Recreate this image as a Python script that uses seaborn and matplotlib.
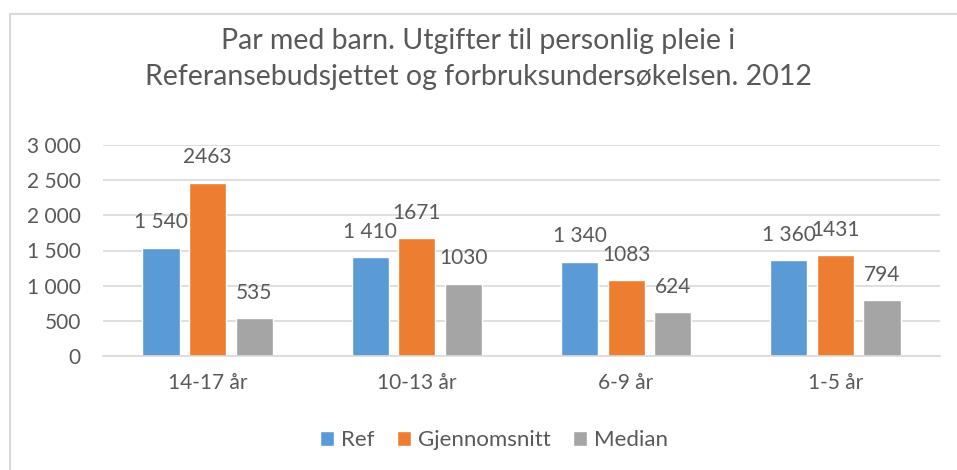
import matplotlib
matplotlib.use('Agg')
import matplotlib.pyplot as plt
import pandas as pd
import seaborn as sns
from matplotlib.lines import Line2D

categories = ['14-17 år', '10-13 år', '6-9 år', '1-5 år']
series = ['Ref', 'Gjennomsnitt', 'Median']
ref_vals = [1540, 1410, 1340, 1360]
snitt_vals = [2463, 1671, 1083, 1431]
median_vals = [535, 1030, 624, 794]
colors = ['#5B9BD5', '#ED7D31', '#A5A5A5']

title = 'Par med barn. Utgifter til personlig pleie i\nReferansebudsjettet og forbruksundersøkelsen. 2012'

def fmt(v):
    return f'{v:,.0f}'.replace(',', ' ')

#long table for seaborn
rows = []
for s, vals in zip(series, [ref_vals, snitt_vals, median_vals]):
    for c, v in zip(categories, vals):
        rows.append({'kat': c, 'serie': s, 'verdi': v})
df = pd.DataFrame(rows)

sns.set_style('white')
plt.rcParams['font.family'] = ['Lato', 'DejaVu Sans']
txt = '#595959'

fig = plt.figure(figsize=(9.57, 4.70), dpi=100)
ax = fig.add_axes([103/957, 1-356/470, (940-103)/957, (356-145)/470])

sns.barplot(data=df, x='kat', y='verdi', hue='serie', palette=colors,
            width=0.667, gap=0.2, ax=ax, legend=True, saturation=1)

#labels over bars, Ref with space separator
for cont, s in zip(ax.containers, series):
    if s == 'Ref':
        labs = [fmt(v) for v in ref_vals]
    elif s == 'Gjennomsnitt':
        labs = [str(v) for v in snitt_vals]
    else:
        labs = [str(v) for v in median_vals]
    ax.bar_label(cont, labels=labs, padding=11, fontsize=15, color=txt)

ax.set_ylim(0, 3000)
ax.set_xlim(-0.5, 3.5)
ax.set_yticks(range(0, 3001, 500))
ax.set_yticklabels([fmt(v) for v in range(0, 3001, 500)])
ax.yaxis.grid(True, color='#D9D9D9', linewidth=1.2)
ax.set_axisbelow(True)
for sp in ['top', 'right', 'left']:
    ax.spines[sp].set_visible(False)
ax.spines['bottom'].set_color('#D9D9D9')
ax.spines['bottom'].set_linewidth(1.2)
ax.tick_params(axis='both', length=0, labelsize=15, labelcolor=txt)
ax.tick_params(axis='x', pad=12)
ax.tick_params(axis='y', pad=16)
ax.set_xlabel('')
ax.set_ylabel('')

handles, labels = ax.get_legend_handles_labels()
ax.get_legend().remove()
fig.legend(handles, labels, loc='center', bbox_to_anchor=(494/957, 1-440/470), ncol=3,
           frameon=False, fontsize=16, labelcolor=txt, handlelength=0.65,
           handleheight=0.65, handletextpad=0.3, columnspacing=1.0)

fig.text(0.5, 1-59/470, title, ha='center', va='center', fontsize=20.5,
         color=txt, linespacing=1.45)

#chart frame lines (top and left)
fig.add_artist(Line2D([10/957, 1], [1-14/470, 1-14/470], color='#D9D9D9', lw=1.5, transform=fig.transFigure))
fig.add_artist(Line2D([10/957, 10/957], [0, 1-14/470], color='#D9D9D9', lw=1.5, transform=fig.transFigure))

fig.savefig('out.png', dpi=100, facecolor='white')
